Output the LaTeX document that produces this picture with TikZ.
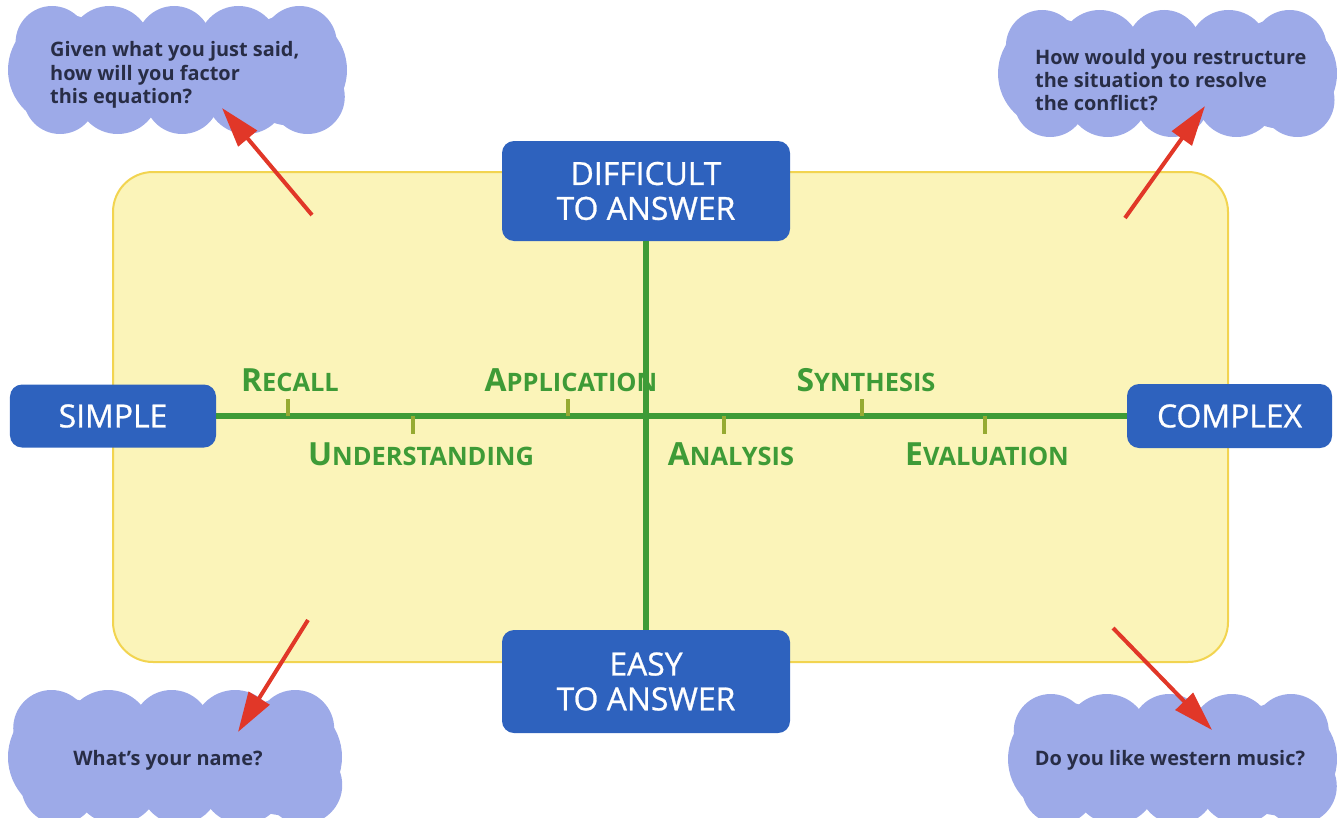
\documentclass[tikz,border=0pt]{standalone}
\usepackage{fontspec}
\setmainfont{Open Sans}
\usetikzlibrary{arrows.meta}
\definecolor{boxblue}{RGB}{46,98,190}
\definecolor{lgreen}{RGB}{62,155,55}
\definecolor{tickol}{RGB}{150,170,50}
\definecolor{yfill}{RGB}{251,244,185}
\definecolor{yedge}{RGB}{242,212,80}
\definecolor{cloudc}{RGB}{157,170,232}
\definecolor{arrred}{RGB}{225,55,40}
\definecolor{cloudtxt}{RGB}{40,45,70}
\newcommand\mycloud[4]{%
  \pgfmathsetmacro\clL{#1}\pgfmathsetmacro\clT{#2}%
  \pgfmathsetmacro\clR{#3}\pgfmathsetmacro\clB{#4}%
  \pgfmathsetmacro\clr{(\clB-\clT)*0.3}%
  \pgfmathsetmacro\clw{\clR-\clL}%
  \fill[cloudc] (\clL+\clr*1.2,\clT+\clr) rectangle (\clR-\clr*1.2,\clB-\clr);
  \foreach \f/\s in {0.13/0.95,0.3/1.08,0.49/0.98,0.68/1.06,0.86/0.97}{%
    \fill[cloudc] (\clL+\f*\clw,\clT+\clr*\s) circle[radius=\clr*\s];
    \fill[cloudc] (\clL+\f*\clw+8,\clB-\clr*\s) circle[radius=\clr*\s];
  }
  \fill[cloudc] (\clL+\clr*1.45,{(\clT+\clB)/2}) circle[radius=\clr*1.45];
  \fill[cloudc] (\clR-\clr*1.45,{(\clT+\clB)/2}) circle[radius=\clr*1.45];
}
\newcommand\smc[2]{{\fontsize{32}{34}\selectfont #1}{\fontsize{25.5}{34}\selectfont #2}}
\tikzset{
  bluebox/.style={fill=boxblue, rounded corners=12bp, text=white, align=center,
    font=\fontsize{32}{35}\selectfont\addfontfeatures{FakeBold=0.8}, inner sep=0pt},
  axisline/.style={lgreen, line width=6bp},
  tickmark/.style={tickol, line width=4bp},
  level/.style={text=lgreen, font=\bfseries, inner sep=0pt, anchor=base},
  qtext/.style={text=cloudtxt, font=\bfseries\fontsize{20}{23.5}\selectfont, align=left, inner sep=0pt},
  redarrow/.style={arrred, line width=4bp, -{Triangle[length=40bp,width=24bp]}}
}
\begin{document}
\begin{tikzpicture}[x=1bp,y=-1bp]
\useasboundingbox (0,0) rectangle (1337,817);
% yellow field
\draw[yedge, line width=2bp, fill=yfill, rounded corners=40bp] (113,172) rectangle (1228,662);
% clouds
\mycloud{8}{6}{347}{134}
\mycloud{998}{10}{1337}{137}
\mycloud{8}{690}{342}{824}
\mycloud{1008}{694}{1337}{824}
\node[qtext, anchor=west] (q1) at (50,75) {Given what you just said,\\how will you factor\\this equation?};
\node[qtext, anchor=west] (q2) at (1035,80) {How would you restructure\\the situation to resolve\\the conflict?};
\node[qtext] (q3) at (168,760) {What’s your name?};
\node[qtext] (q4) at (1170,760) {Do you like western music?};
% boxes
\node[bluebox, minimum width=288bp, minimum height=100bp] (top) at (646,191) {DIFFICULT\\TO ANSWER};
\node[bluebox, minimum width=288bp, minimum height=103bp] (bot) at (646,681.5) {EASY\\TO ANSWER};
\node[bluebox, minimum width=206bp, minimum height=63bp] (simple) at (113,416) {SIMPLE};
\node[bluebox, minimum width=205bp, minimum height=64bp] (complex) at (1229.5,416) {COMPLEX};
% axes
\draw[axisline] (top.south) -- (bot.north);
\draw[axisline] (simple.east) -- (complex.west);
% ticks
\coordinate (tr1) at (288,416); \coordinate (tu1) at (413,416);
\coordinate (tp1) at (568,416); \coordinate (tn1) at (724,416);
\coordinate (ts1) at (862,416); \coordinate (te1) at (985,416);
\draw[tickmark] (tr1) -- ++(0,-17);
\draw[tickmark] (tu1) -- ++(0,18);
\draw[tickmark] (tp1) -- ++(0,-17);
\draw[tickmark] (tn1) -- ++(0,18);
\draw[tickmark] (ts1) -- ++(0,-17);
\draw[tickmark] (te1) -- ++(0,18);
% labels
\node[level] (lr) at (290,391) {\smc{R}{ECALL}};
\node[level] (lp) at (571,391) {\smc{A}{PPLICATION}};
\node[level] (ls) at (866,391) {\smc{S}{YNTHESIS}};
\node[level] (lu) at (421,465) {\smc{U}{NDERSTANDING}};
\node[level] (ln) at (731,465) {\smc{A}{NALYSIS}};
\node[level] (le) at (987,465) {\smc{E}{VALUATION}};
% arrows
\coordinate (a1) at (312,215); \coordinate (t1) at (222,108);
\coordinate (a2) at (1125,218); \coordinate (t2) at (1205,106);
\coordinate (a3) at (308,620); \coordinate (t3) at (238,732);
\coordinate (a4) at (1113,628); \coordinate (t4) at (1212,730);
\draw[redarrow] (a1) -- (t1);
\draw[redarrow] (a2) -- (t2);
\draw[redarrow] (a3) -- (t3);
\draw[redarrow] (a4) -- (t4);
\end{tikzpicture}
\end{document}
